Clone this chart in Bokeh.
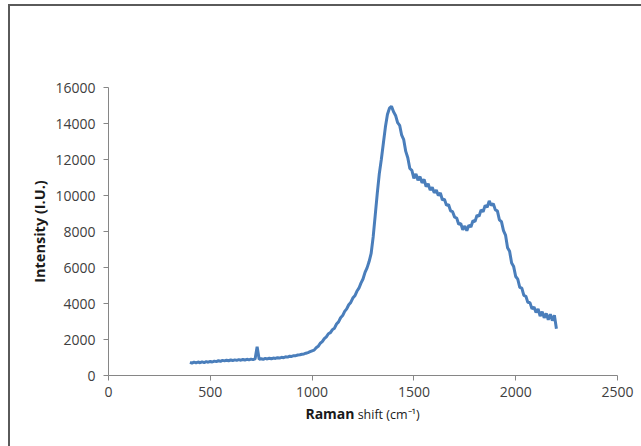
import math
from bokeh.plotting import figure
from bokeh.models import FixedTicker, Div
from bokeh.layouts import column
from bokeh.embed import file_html
from bokeh.resources import INLINE

# Raman shift (cm-1), sampled every 10 cm-1
shift = list(range(400, 2210, 10))
intensity = [
    730, 690, 740, 700, 750, 710, 760, 720, 770, 740,            # 400-490
    780, 750, 800, 770, 820, 790, 840, 810, 850, 820,            # 500-590
    860, 830, 870, 840, 880, 850, 890, 860, 900, 870,            # 600-690
    910, 880, 920, 1600, 900, 930, 900, 950, 920, 960,           # 700-790
    930, 970, 950, 990, 970, 1010, 990, 1040, 1020, 1070,        # 800-890
    1060, 1100, 1100, 1140, 1150, 1180, 1200, 1240, 1270, 1320,  # 900-990
    1370, 1410, 1540, 1620, 1790, 1880, 2050, 2150, 2320, 2380,  # 1000-1090
    2550, 2630, 2860, 2980, 3210, 3330, 3560, 3700, 3930, 4060,  # 1100-1190
    4300, 4430, 4680, 4850, 5130, 5360, 5730, 5980, 6330, 6780,  # 1200-1290
    7700, 8900, 10100, 11200, 12000, 12900, 13800, 14500, 14850, 14950,  # 1300-1390
    14650, 14450, 14050, 13900, 13350, 13100, 12450, 12100, 11500, 11400,  # 1400-1490
    10950, 11200, 10850, 11050, 10700, 10900, 10500, 10650, 10300, 10450,  # 1500-1590
    10150, 10300, 10000, 10150, 9750, 9800, 9450, 9500, 9150, 9100,        # 1600-1690
    8800, 8750, 8400, 8450, 8100, 8300, 8050, 8350, 8250, 8600,            # 1700-1790
    8550, 8900, 8850, 9200, 9100, 9450, 9350, 9700, 9450, 9550,            # 1800-1890
    9200, 9150, 8650, 8550, 8050, 7800, 7100, 6900, 6250, 6050,            # 1900-1990
    5500, 5350, 4900, 4850, 4450, 4400, 4050, 4050, 3700, 3800,            # 2000-2090
    3500, 3700, 3300, 3550, 3200, 3450, 3100, 3400, 3050, 3350,            # 2100-2190
    2600,                                                                  # 2200
]

x_ticks = [0, 500, 1000, 1500, 2000, 2500]
y_ticks = [0, 2000, 4000, 6000, 8000, 10000, 12000, 14000, 16000]

FONT = "Open Sans"
TICK_COLOR = "#404040"
AXIS_COLOR = "#868686"
LINE_COLOR = "#4A7EBB"
TITLE_COLOR = "#1a1a1a"

p = figure(
    width=631, height=400,
    x_range=(0, 2500), y_range=(0, 16000),
    output_backend="svg", toolbar_location=None,
    min_border_left=98, min_border_right=24,
    min_border_top=81, min_border_bottom=31,
)
p.outline_line_color = None
p.grid.grid_line_color = None
p.background_fill_color = "white"
p.border_fill_color = "white"

p.line(shift, intensity, line_color=LINE_COLOR, line_width=3)

for ax in (p.xaxis[0], p.yaxis[0]):
    ax.axis_line_color = AXIS_COLOR
    ax.major_tick_line_color = AXIS_COLOR
    ax.minor_tick_line_color = None
    ax.major_tick_out = 5
    ax.major_tick_in = 0
    ax.major_label_text_font = FONT
    ax.major_label_text_font_size = "14px"
    ax.major_label_text_color = TICK_COLOR
p.yaxis.major_label_standoff = 8
p.xaxis.major_label_standoff = 6

p.xaxis.ticker = FixedTicker(ticks=x_ticks)
p.yaxis.ticker = FixedTicker(ticks=y_ticks)

p.yaxis.axis_label = "Intensity (I.U.)"
p.yaxis.axis_label_text_font = FONT
p.yaxis.axis_label_text_font_size = "14.5px"
p.yaxis.axis_label_text_font_style = "bold"
p.yaxis.axis_label_text_color = TITLE_COLOR
p.yaxis.axis_label_standoff = 3

xtitle = Div(
    width=631, height=40,
    text=(
        '<div style="box-sizing:border-box;width:631px;padding-left:74px;'
        'text-align:center;line-height:16px;font-family:\'Open Sans\';color:#1a1a1a;">'
        '<span style="font-size:14px;font-weight:bold;">Raman</span> '
        '<span style="font-size:12.5px;">shift (cm\u207b\u00b9)</span></div>'
    ),
    styles={"margin": "0", "padding": "0", "background": "white"},
)

layout = column(
    p, xtitle, spacing=0,
    styles={"border-left": "2px solid #5a5a5a",
            "border-top": "2px solid #5a5a5a",
            "margin-left": "8px",
            "margin-top": "4px",
            "background": "white"},
)

open("out.html", "w").write(file_html(layout, INLINE))
